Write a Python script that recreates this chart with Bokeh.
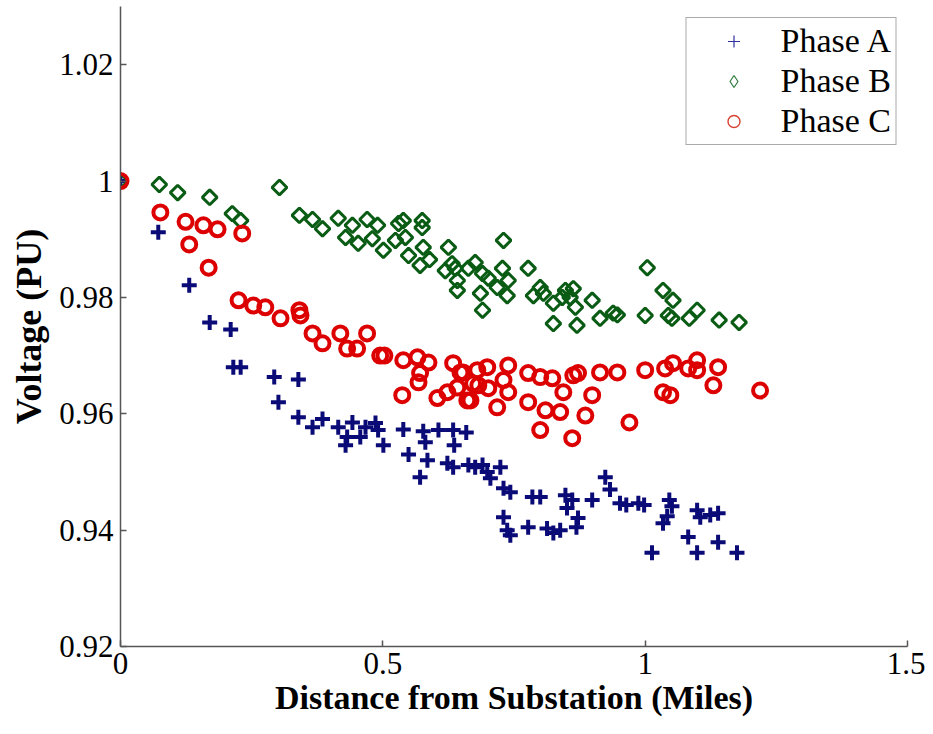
import math
from bokeh.plotting import figure
from bokeh.models import (Range1d, FixedTicker, Legend, LegendItem, CustomJSTickFormatter)
from bokeh.embed import file_html
from bokeh.resources import INLINE

# ---------------- data (distance in miles, voltage in PU) ----------------
phase_a_x = [0.000, 0.072, 0.131, 0.170, 0.210, 0.215, 0.229, 0.293, 0.339, 0.301,
             0.339, 0.366, 0.385, 0.415, 0.432, 0.429, 0.442, 0.457, 0.467, 0.486,
             0.491, 0.501, 0.539, 0.549, 0.571, 0.577, 0.581, 0.585, 0.606, 0.623,
             0.634, 0.636, 0.634, 0.659, 0.663, 0.676, 0.690, 0.699, 0.705, 0.724,
             0.730, 0.743, 0.730, 0.737, 0.743, 0.777, 0.785, 0.800, 0.813, 0.825,
             0.838, 0.848, 0.851, 0.861, 0.869, 0.872, 0.899, 0.924, 0.933, 0.952,
             0.964, 0.987, 0.998, 1.013, 1.034, 1.042, 1.046, 1.051, 1.082, 1.099,
             1.105, 1.099, 1.124, 1.139, 1.139, 1.175]
phase_a_y = [1.0000, 0.9912, 0.9821, 0.9757, 0.9745, 0.9680, 0.9680, 0.9663, 0.9659, 0.9620,
             0.9594, 0.9577, 0.9591, 0.9577, 0.9560, 0.9546, 0.9585, 0.9560, 0.9577, 0.9584,
             0.9572, 0.9546, 0.9573, 0.9530, 0.9491, 0.9570, 0.9551, 0.9520, 0.9572, 0.9515,
             0.9572, 0.9546, 0.9508, 0.9568, 0.9512, 0.9508, 0.9512, 0.9500, 0.9489, 0.9508,
             0.9472, 0.9465, 0.9422, 0.9400, 0.9391, 0.9405, 0.9457, 0.9457, 0.9403, 0.9395,
             0.9400, 0.9460, 0.9438, 0.9452, 0.9405, 0.9421, 0.9452, 0.9491, 0.9470, 0.9446,
             0.9443, 0.9446, 0.9443, 0.9361, 0.9412, 0.9424, 0.9452, 0.9441, 0.9388, 0.9434,
             0.9422, 0.9361, 0.9426, 0.9429, 0.9379, 0.9361]

phase_b_x = [0.000, 0.074, 0.109, 0.170, 0.213, 0.229, 0.303, 0.341, 0.366, 0.385,
             0.415, 0.429, 0.442, 0.453, 0.470, 0.480, 0.490, 0.501, 0.524, 0.530,
             0.539, 0.543, 0.549, 0.571, 0.575, 0.575, 0.577, 0.589, 0.625, 0.619,
             0.632, 0.638, 0.642, 0.642, 0.663, 0.676, 0.690, 0.686, 0.690, 0.701,
             0.718, 0.730, 0.728, 0.739, 0.737, 0.777, 0.787, 0.800, 0.806, 0.825,
             0.825, 0.842, 0.848, 0.857, 0.863, 0.867, 0.870, 0.899, 0.914, 0.939,
             0.947, 1.004, 1.000, 1.034, 1.053, 1.044, 1.051, 1.084, 1.099, 1.141,
             1.179]
phase_b_y = [1.0000, 0.9994, 0.9980, 0.9972, 0.9944, 0.9932, 0.9989, 0.9941, 0.9934, 0.9918,
             0.9936, 0.9903, 0.9924, 0.9893, 0.9934, 0.9901, 0.9924, 0.9881, 0.9898, 0.9927,
             0.9932, 0.9903, 0.9872, 0.9855, 0.9932, 0.9920, 0.9886, 0.9865, 0.9886, 0.9846,
             0.9858, 0.9850, 0.9829, 0.9812, 0.9850, 0.9860, 0.9841, 0.9807, 0.9778, 0.9833,
             0.9817, 0.9898, 0.9850, 0.9829, 0.9803, 0.9850, 0.9803, 0.9817, 0.9807, 0.9790,
             0.9755, 0.9800, 0.9812, 0.9800, 0.9815, 0.9783, 0.9752, 0.9795, 0.9764, 0.9773,
             0.9770, 0.9851, 0.9769, 0.9812, 0.9795, 0.9769, 0.9764, 0.9764, 0.9778, 0.9761,
             0.9757]

phase_c_x = [0.000, 0.076, 0.124, 0.131, 0.158, 0.185, 0.168, 0.232, 0.225, 0.253,
             0.276, 0.305, 0.341, 0.343, 0.366, 0.385, 0.419, 0.432, 0.451, 0.470,
             0.495, 0.503, 0.539, 0.566, 0.587, 0.571, 0.568, 0.537, 0.604, 0.623,
             0.634, 0.653, 0.642, 0.661, 0.672, 0.648, 0.667, 0.680, 0.699, 0.682,
             0.701, 0.718, 0.739, 0.730, 0.739, 0.777, 0.777, 0.800, 0.800, 0.810,
             0.823, 0.838, 0.844, 0.863, 0.872, 0.861, 0.886, 0.899, 0.914, 0.947,
             0.970, 1.000, 1.038, 1.034, 1.048, 1.053, 1.082, 1.099, 1.099, 1.130,
             1.139, 1.219]
phase_c_y = [1.0000, 0.9946, 0.9930, 0.9891, 0.9924, 0.9917, 0.9851, 0.9910, 0.9795, 0.9786,
             0.9783, 0.9764, 0.9778, 0.9769, 0.9738, 0.9721, 0.9738, 0.9712, 0.9712, 0.9738,
             0.9700, 0.9700, 0.9692, 0.9697, 0.9688, 0.9670, 0.9654, 0.9632, 0.9627, 0.9637,
             0.9687, 0.9671, 0.9645, 0.9623, 0.9652, 0.9671, 0.9623, 0.9675, 0.9680, 0.9649,
             0.9644, 0.9611, 0.9683, 0.9658, 0.9637, 0.9670, 0.9620, 0.9663, 0.9572, 0.9606,
             0.9661, 0.9603, 0.9637, 0.9666, 0.9670, 0.9558, 0.9597, 0.9632, 0.9671, 0.9671,
             0.9585, 0.9675, 0.9678, 0.9637, 0.9632, 0.9687, 0.9678, 0.9692, 0.9675, 0.9649,
             0.9680, 0.9640]

series_labels = ["Phase A", "Phase B", "Phase C"]
x_ticks = [0, 0.5, 1, 1.5]
y_ticks = [0.92, 0.94, 0.96, 0.98, 1.0, 1.02]

COL_A = "#0b0b78"
COL_B = "#0a5c14"
COL_C = "#dd0000"
FONT = "Liberation Serif"
ROT = math.pi / 4

p = figure(width=925, height=732,
           x_range=Range1d(0, 1.5), y_range=Range1d(0.92, 1.03),
           output_backend="svg", toolbar_location=None,
           min_border_left=120, min_border_right=18,
           min_border_top=6, min_border_bottom=86)
p.grid.visible = False
p.outline_line_color = None
p.background_fill_color = "white"

ra = p.scatter(phase_a_x, phase_a_y, marker="cross", size=15, line_width=4,
               line_color=COL_A)
rb = p.scatter(phase_b_x, phase_b_y, marker="square", angle=ROT, size=10.5, line_width=3,
               line_color=COL_B, fill_color=None)
rc = p.scatter(phase_c_x, phase_c_y, marker="circle", size=14, line_width=4,
               line_color=COL_C, fill_color=None)

# thin glyphs used only for the legend (placed outside the visible ranges)
off_x = [-10.0]
off_y = [-10.0]
la = p.scatter(off_x, off_y, marker="cross", size=13, line_width=1.2, line_color="#3030a0")
lb = p.scatter(off_x, off_y, marker="diamond", size=20, line_width=1.2,
               line_color="#2f7a3a", fill_color=None)
lc = p.scatter(off_x, off_y, marker="circle", size=12, line_width=1.4, line_color="#d84030",
               fill_color=None)

legend = Legend(items=[LegendItem(label=series_labels[0], renderers=[la]),
                       LegendItem(label=series_labels[1], renderers=[lb]),
                       LegendItem(label=series_labels[2], renderers=[lc])],
                location="top_right", margin=11, padding=4, spacing=2,
                glyph_width=86, glyph_height=30, label_standoff=4, label_height=34,
                label_text_font=FONT, label_text_font_size="34px",
                label_text_color="black",
                border_line_color="#555555", border_line_width=1.5,
                background_fill_color="white", background_fill_alpha=1.0)
p.add_layout(legend)

fmt = CustomJSTickFormatter(code="return String(Math.round(tick*100)/100);")
for ax in (p.xaxis[0], p.yaxis[0]):
    ax.axis_line_color = "#555555"
    ax.axis_line_width = 1.5
    ax.major_tick_line_color = "#555555"
    ax.major_tick_line_width = 1.5
    ax.major_tick_in = 6
    ax.major_tick_out = 0
    ax.minor_tick_line_color = None
    ax.major_label_text_font = FONT
    ax.major_label_text_font_size = "31px"
    ax.major_label_text_color = "black"
    ax.axis_label_text_font = FONT
    ax.axis_label_text_font_style = "bold"
    ax.axis_label_text_color = "black"
    ax.formatter = fmt

p.xaxis[0].ticker = FixedTicker(ticks=x_ticks)
p.yaxis[0].ticker = FixedTicker(ticks=y_ticks)
p.xaxis[0].axis_label = "Distance from Substation (Miles)"
p.yaxis[0].axis_label = "Voltage (PU)"
p.xaxis[0].axis_label_text_font_size = "34px"
p.yaxis[0].axis_label_text_font_size = "36px"
p.xaxis[0].major_label_standoff = 6
p.xaxis[0].axis_label_standoff = 2
p.yaxis[0].major_label_standoff = 7
p.yaxis[0].axis_label_standoff = 7

open("out.html", "w").write(file_html(p, INLINE))
